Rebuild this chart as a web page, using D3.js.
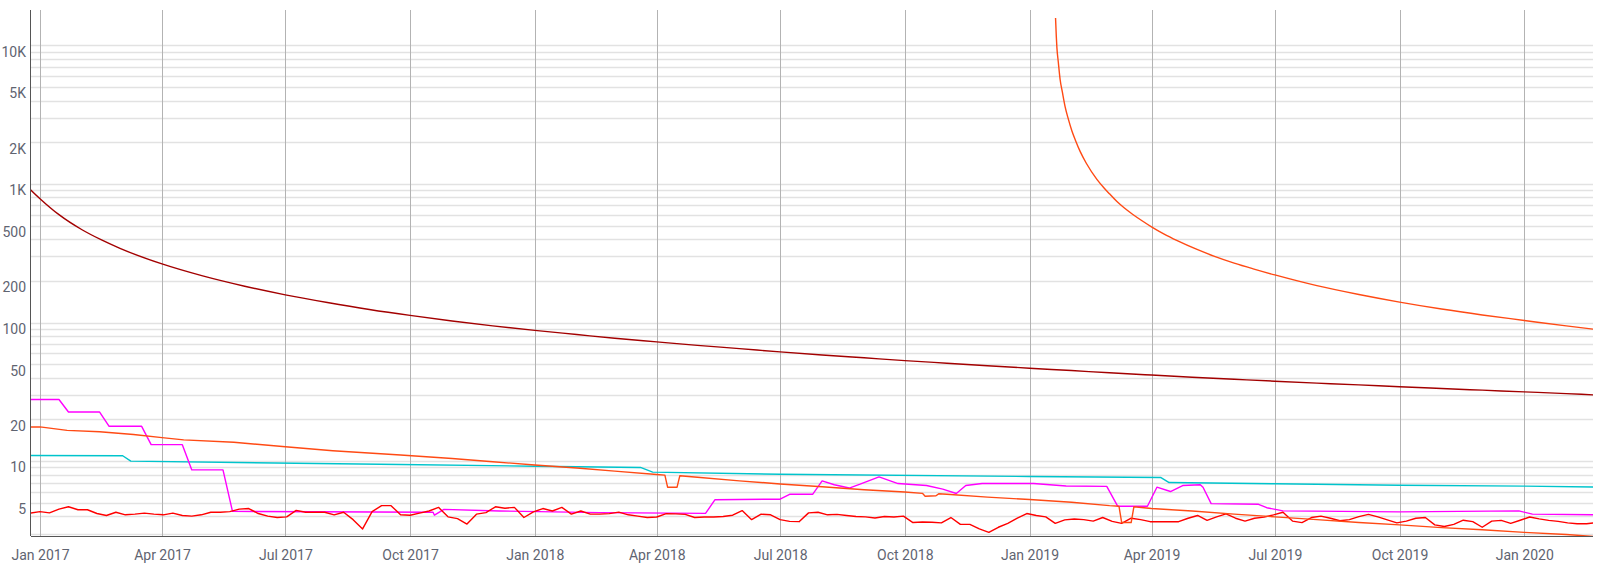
<!DOCTYPE html>
<html>
<head>
<meta charset="utf-8">
<script src="https://cdnjs.cloudflare.com/ajax/libs/d3/7.8.5/d3.min.js"></script>
<style>
  body { margin: 0; background: #fff; }
  .tick-label { font-family: Roboto, "Noto Sans", sans-serif; font-size: 14px; fill: #5f6471; }
</style>
</head>
<body>
<div class="chart"></div>
<script>
// ---- data ----
var yTickValues = [5, 10, 20, 50, 100, 200, 500, 1000, 2000, 5000, 10000];

// dark red decay curve
var maroonSeries = [
  ["2016-12-25", 1010], ["2017-01-01", 870], ["2017-01-15", 667], ["2017-02-01", 519],
  ["2017-02-15", 440], ["2017-03-01", 381], ["2017-04-01", 294], ["2017-05-01", 241],
  ["2017-06-01", 203], ["2017-07-01", 176], ["2017-08-01", 155], ["2017-09-01", 138],
  ["2017-10-01", 125], ["2017-11-01", 114], ["2017-12-01", 105], ["2018-01-01", 97.5],
  ["2018-02-01", 91], ["2018-03-01", 85.5], ["2018-04-01", 80.5], ["2018-05-01", 76],
  ["2018-06-01", 72], ["2018-07-01", 68.2], ["2018-08-01", 64.8], ["2018-09-01", 61.8],
  ["2018-10-01", 59], ["2018-11-01", 56.5], ["2018-12-01", 54.2], ["2019-01-01", 52],
  ["2019-02-01", 50], ["2019-03-01", 48.2], ["2019-04-01", 46.4], ["2019-05-01", 44.8],
  ["2019-06-01", 43.3], ["2019-07-01", 41.9], ["2019-08-01", 40.6], ["2019-09-01", 39.4],
  ["2019-10-01", 38.2], ["2019-11-01", 37.1], ["2019-12-01", 36.1], ["2020-01-01", 35.1],
  ["2020-02-01", 34.1], ["2020-02-21", 33.4]
];

// orange decay curve starting Jan 2019
var orangeDecay = [
  ["2019-01-20 05", 17500], ["2019-01-20 18", 13000], ["2019-01-21 05", 10700],
  ["2019-01-22 06", 8400], ["2019-01-23 14", 6300], ["2019-01-25 06", 5100],
  ["2019-01-27 07", 4000], ["2019-01-29 12", 3300], ["2019-02-01 07", 2680],
  ["2019-02-04 00", 2280], ["2019-02-07 10", 1900], ["2019-02-12 00", 1560],
  ["2019-02-19 17", 1200], ["2019-02-25 00", 1040], ["2019-03-01 00", 943],
  ["2019-03-06 12", 830], ["2019-03-12 00", 745], ["2019-03-18 00", 672],
  ["2019-03-25 00", 603], ["2019-04-01 00", 545], ["2019-04-10 00", 485],
  ["2019-04-20 00", 433], ["2019-05-04 14", 374], ["2019-05-18 00", 332],
  ["2019-06-01 00", 298], ["2019-06-15 00", 271], ["2019-07-01 00", 245],
  ["2019-08-01 00", 205], ["2019-09-01 00", 177], ["2019-10-01 00", 156],
  ["2019-11-01 00", 139], ["2019-12-01 00", 126], ["2020-01-01 00", 115],
  ["2020-02-01 00", 105], ["2020-02-21 00", 99.5]
];

// orange slow decline
var orangeSeries = [
  ["2016-12-25", 19.6], ["2017-01-01", 19.6], ["2017-01-21", 18.5], ["2017-02-14", 18.1],
  ["2017-03-11", 17.3], ["2017-04-01", 16.4], ["2017-04-17", 15.8], ["2017-05-24", 15.2],
  ["2017-07-01", 14.1], ["2017-08-05", 13.2], ["2017-09-24", 12.3], ["2017-11-01", 11.6],
  ["2017-12-01", 11.0], ["2018-01-01", 10.4], ["2018-02-01", 9.9], ["2018-03-01", 9.4],
  ["2018-04-01", 8.9], ["2018-04-07", 8.8], ["2018-04-09", 7.2], ["2018-04-16", 7.2],
  ["2018-04-18", 8.7], ["2018-05-01", 8.5], ["2018-06-01", 8.0], ["2018-07-01", 7.6],
  ["2018-08-01", 7.25], ["2018-09-01", 6.9], ["2018-10-01", 6.65], ["2018-10-14", 6.5],
  ["2018-10-16", 6.2], ["2018-10-24", 6.25], ["2018-10-26", 6.45], ["2018-11-01", 6.4],
  ["2018-12-01", 6.1], ["2019-01-01", 5.87], ["2019-02-01", 5.6], ["2019-03-01", 5.3],
  ["2019-03-08", 5.25], ["2019-03-10", 4.0], ["2019-03-17", 4.0], ["2019-03-19", 5.2],
  ["2019-04-01", 5.05], ["2019-05-01", 4.85], ["2019-06-01", 4.6], ["2019-07-01", 4.4],
  ["2019-08-01", 4.2], ["2019-09-01", 4.0], ["2019-10-01", 3.85], ["2019-11-01", 3.68],
  ["2019-12-01", 3.55], ["2020-01-01", 3.4], ["2020-02-01", 3.28], ["2020-02-21", 3.18]
];

// cyan step-down line
var cyanSeries = [
  ["2016-12-25", 12.2], ["2017-03-03", 12.15], ["2017-03-09", 11.1], ["2017-09-24", 10.5],
  ["2018-01-01", 10.2], ["2018-03-20", 10.0], ["2018-03-29", 9.25], ["2018-07-01", 8.93],
  ["2019-01-01", 8.6], ["2019-04-08", 8.45], ["2019-04-14", 7.78], ["2019-07-01", 7.62],
  ["2019-10-01", 7.44], ["2020-01-01", 7.33], ["2020-02-21", 7.23]
];

// magenta steps
var magentaSeries = [
  ["2016-12-25", 30.9], ["2017-01-15", 30.9], ["2017-01-22", 25.1], ["2017-02-14", 25.1],
  ["2017-02-21", 19.8], ["2017-03-17", 19.8], ["2017-03-24", 14.6], ["2017-04-16", 14.6],
  ["2017-04-23", 9.6], ["2017-05-16", 9.6], ["2017-05-23", 4.82], ["2017-10-18", 4.75],
  ["2017-10-19", 4.52], ["2017-10-26", 4.98], ["2017-12-06", 4.85], ["2018-02-18", 4.72],
  ["2018-05-07", 4.66], ["2018-05-14", 5.85], ["2018-07-01", 5.9], ["2018-07-08", 6.4],
  ["2018-07-25", 6.4], ["2018-08-01", 8.0], ["2018-08-10", 7.5], ["2018-08-21", 7.1],
  ["2018-08-29", 7.57], ["2018-09-12", 8.55], ["2018-09-26", 7.65], ["2018-10-17", 7.4],
  ["2018-10-29", 6.97], ["2018-11-08", 6.48], ["2018-11-15", 7.4], ["2018-11-27", 7.65],
  ["2019-01-04", 7.65], ["2019-01-28", 7.35], ["2019-02-27", 7.3], ["2019-03-07", 5.25],
  ["2019-03-29", 5.25], ["2019-04-05", 7.2], ["2019-04-15", 6.7], ["2019-04-24", 7.4],
  ["2019-05-07", 7.5], ["2019-05-09", 7.2], ["2019-05-15", 5.48], ["2019-06-19", 5.42],
  ["2019-06-25", 5.12], ["2019-07-07", 4.86], ["2019-10-01", 4.78], ["2019-12-28", 4.86],
  ["2020-01-07", 4.6], ["2020-02-21", 4.55]
];

// red noisy line, one value per week from 2016-12-25
var redStart = "2016-12-25";
var redStepDays = 7;
var redValues = [
  4.69, 4.8, 4.7, 5.0, 5.2, 4.95, 4.95, 4.65, 4.5, 4.75,
  4.55, 4.6, 4.68, 4.6, 4.55, 4.68, 4.5, 4.45, 4.55, 4.75,
  4.75, 4.8, 5.0, 5.05, 4.65, 4.45, 4.35, 4.4, 4.9, 4.75,
  4.75, 4.75, 4.55, 4.75, 4.2, 3.6, 4.8, 5.3, 5.3, 4.55,
  4.52, 4.68, 4.85, 5.15, 4.4, 4.27, 3.9, 4.6, 4.72, 5.2,
  5.08, 5.15, 4.35, 4.78, 5.05, 4.85, 5.15, 4.6, 4.85, 4.6,
  4.6, 4.64, 4.76, 4.55, 4.45, 4.35, 4.39, 4.64, 4.62, 4.58,
  4.35, 4.39, 4.39, 4.42, 4.52, 4.88, 4.2, 4.6, 4.55, 4.2,
  4.08, 4.06, 4.7, 4.75, 4.55, 4.58, 4.5, 4.42, 4.4, 4.32,
  4.42, 4.39, 4.45, 4.0, 4.04, 4.02, 3.98, 4.35, 3.88, 3.88,
  3.6, 3.4, 3.7, 3.95, 4.3, 4.65, 4.5, 4.4, 3.95, 4.18,
  4.24, 4.2, 4.1, 4.35, 4.08, 3.95, 4.3, 4.2, 4.06, 4.06,
  4.06, 4.06, 4.3, 4.5, 4.15, 4.4, 4.62, 4.3, 4.1, 4.3,
  4.38, 4.55, 4.75, 4.1, 4.0, 4.35, 4.45, 4.3, 4.12, 4.2,
  4.42, 4.58, 4.4, 4.18, 3.98, 4.1, 4.3, 4.35, 3.85, 3.75,
  3.88, 4.16, 4.06, 3.7, 4.1, 4.15, 3.95, 4.16, 4.39, 4.25,
  4.15, 4.08, 3.98, 3.92, 3.92, 4.0
];

// ---- layout ----
var svgWidth = 1600;
var svgHeight = 566;
var margin = { top: 10, right: 7, bottom: 30, left: 31 };
var width = svgWidth - margin.left - margin.right;
var height = svgHeight - margin.top - margin.bottom;

var svg = d3.select(".chart")
  .append("svg")
  .attr("width", svgWidth)
  .attr("height", svgHeight);

var chartGroup = svg.append("g")
  .attr("transform", `translate(${margin.left}, ${margin.top})`);

var parseDay = d3.utcParse("%Y-%m-%d");
var parseHour = d3.utcParse("%Y-%m-%d %H");
function parseT(s) { return s.length > 10 ? parseHour(s) : parseDay(s); }

function toPoints(rows) {
  return rows.map(r => ({ date: parseT(r[0]), value: r[1] }));
}

var redPoints = redValues.map((v, i) => ({
  date: d3.utcDay.offset(parseDay(redStart), i * redStepDays),
  value: v
}));

// scales
var xScale = d3.scaleUtc()
  .domain([new Date(Date.UTC(2016, 11, 25, 8, 40)), new Date(Date.UTC(2020, 1, 20, 17, 0))])
  .range([0, width]);

var yScale = d3.scaleLog()
  .domain([3.2, 20000])
  .range([height, 0]);

// horizontal grid lines (ninths of each decade)
var hGrid = [];
for (var n = 0; n <= 5; n++) {
  for (var k = 1; k <= 9; k++) {
    var g = Math.pow(10, n) * k / 9;
    if (g >= 3.2 && g <= 20000) hGrid.push(g);
  }
}

chartGroup.append("g")
  .selectAll("line")
  .data(hGrid)
  .enter()
  .append("line")
  .attr("x1", 0)
  .attr("x2", width)
  .attr("y1", d => Math.round(yScale(d)) + 0.5)
  .attr("y2", d => Math.round(yScale(d)) + 0.5)
  .attr("stroke", "#e2e2e2")
  .attr("stroke-width", 1.3);

// vertical grid lines at quarters
var quarters = xScale.ticks(d3.utcMonth.every(3));

chartGroup.append("g")
  .selectAll("line")
  .data(quarters)
  .enter()
  .append("line")
  .attr("x1", d => Math.round(xScale(d)) + 0.5)
  .attr("x2", d => Math.round(xScale(d)) + 0.5)
  .attr("y1", 0)
  .attr("y2", height)
  .attr("stroke", "#b3b3b3")
  .attr("stroke-width", 1);

// axes
var bottomAxis = d3.axisBottom(xScale)
  .tickValues(quarters)
  .tickSize(0)
  .tickPadding(14)
  .tickFormat(d3.utcFormat("%b %Y"));

var leftAxis = d3.axisLeft(yScale)
  .tickValues(yTickValues)
  .tickSize(0)
  .tickPadding(5)
  .tickFormat(d => d >= 1000 ? (d / 1000) + "K" : d);

var xAxisG = chartGroup.append("g")
  .attr("transform", `translate(0, ${height})`)
  .call(bottomAxis);

var yAxisG = chartGroup.append("g")
  .call(leftAxis);

[xAxisG, yAxisG].forEach(function(ax) {
  ax.select(".domain").remove();
  ax.selectAll("text")
    .attr("class", "tick-label")
    .attr("fill", null);
});

// series
chartGroup.append("clipPath")
  .attr("id", "plot-clip")
  .append("rect")
  .attr("width", width)
  .attr("height", height + 1);

var plotG = chartGroup.append("g")
  .attr("clip-path", "url(#plot-clip)");

var lineSmooth = d3.line()
  .x(d => xScale(d.date))
  .y(d => yScale(d.value))
  .curve(d3.curveMonotoneX);

var lineRaw = d3.line()
  .x(d => xScale(d.date))
  .y(d => yScale(d.value));

var seriesList = [
  { points: toPoints(cyanSeries), color: "#00c4cc", gen: lineRaw },
  { points: toPoints(magentaSeries), color: "#ff00ff", gen: lineRaw },
  { points: redPoints, color: "#ff0000", gen: lineRaw },
  { points: toPoints(orangeSeries), color: "#ff4a14", gen: lineRaw },
  { points: toPoints(maroonSeries), color: "#a30000", gen: lineSmooth },
  { points: toPoints(orangeDecay), color: "#ff4a14", gen: lineSmooth }
];

seriesList.forEach(function(s) {
  plotG.append("path")
    .datum(s.points)
    .attr("fill", "none")
    .attr("stroke", s.color)
    .attr("stroke-width", 1.4)
    .attr("stroke-linejoin", "round")
    .attr("d", s.gen);
});

// axis lines
chartGroup.append("line")
  .attr("x1", -0.5).attr("x2", -0.5)
  .attr("y1", 0).attr("y2", height)
  .attr("stroke", "#555")
  .attr("stroke-width", 1);

chartGroup.append("line")
  .attr("x1", 0).attr("x2", width)
  .attr("y1", height + 0.5).attr("y2", height + 0.5)
  .attr("stroke", "#555")
  .attr("stroke-width", 1);
</script>
</body>
</html>
